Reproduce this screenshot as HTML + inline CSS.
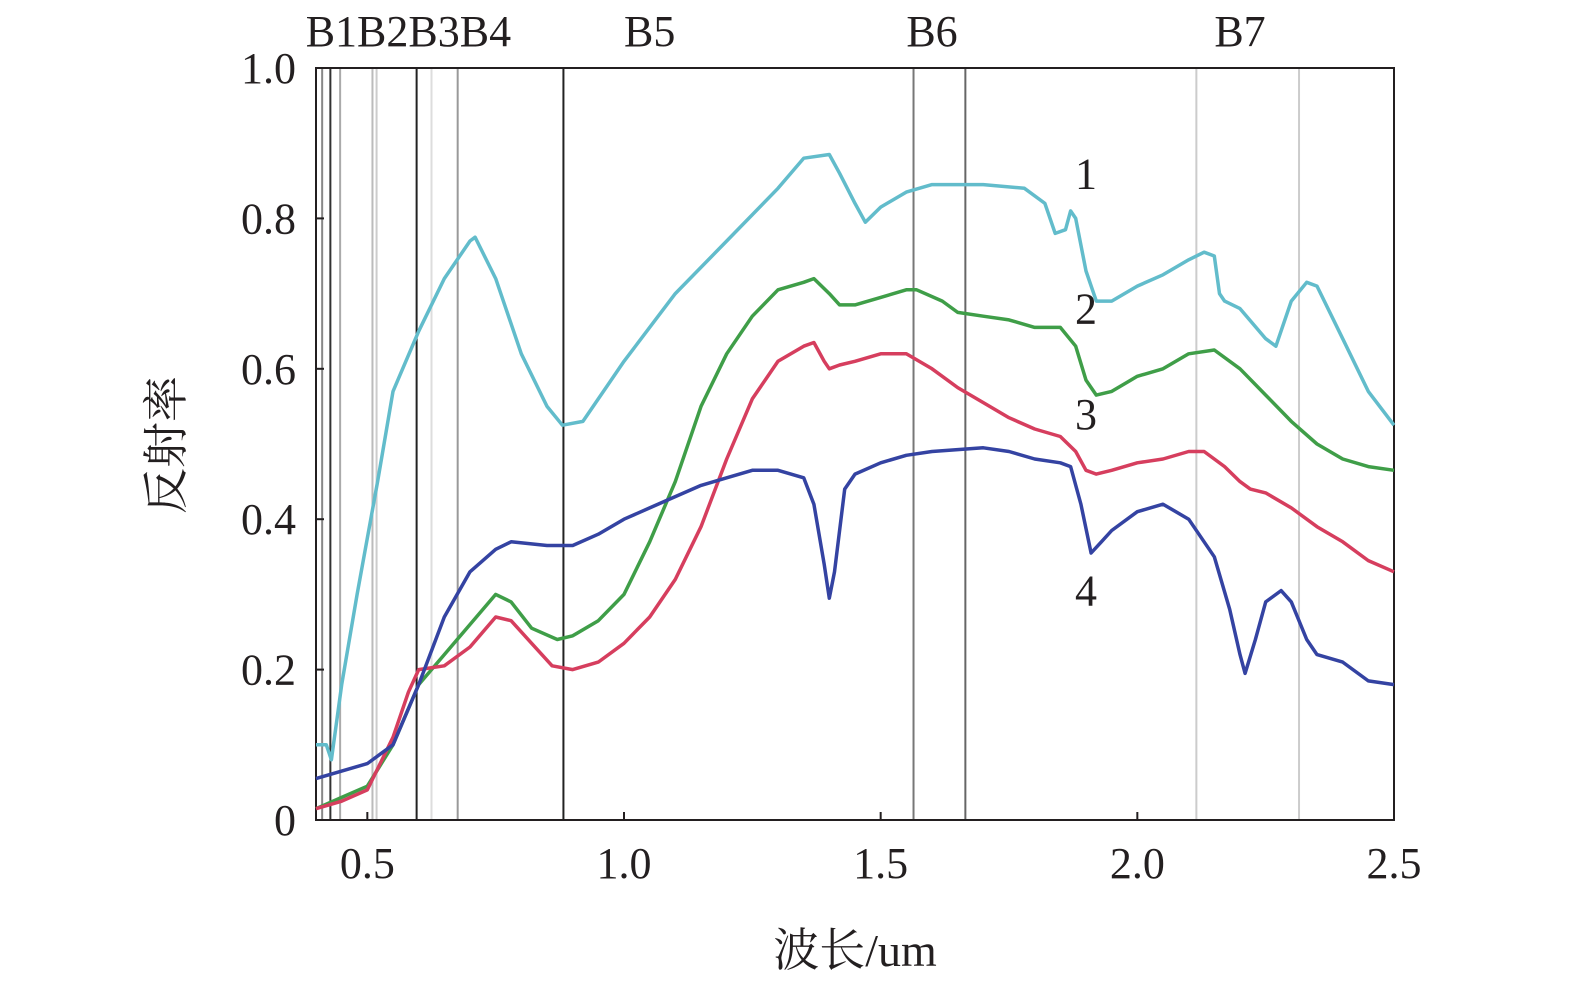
<!DOCTYPE html>
<html><head><meta charset="utf-8"><style>
body{margin:0;background:#fff}
svg text{font-family:"Liberation Serif","Noto Serif CJK SC",serif;fill:#231f20}
</style></head><body>
<svg id="c" width="1575" height="987" xmlns="http://www.w3.org/2000/svg"></svg>
<script>
const xTicks=[0.5,1.0,1.5,2.0,2.5];
const xTickLabels=["0.5","1.0","1.5","2.0","2.5"];
const yTicks=[0,0.2,0.4,0.6,0.8,1.0];
const yTickLabels=["0","0.2","0.4","0.6","0.8","1.0"];
const bandLines=[0.412,0.428,0.447,0.51,0.518,0.596,0.625,0.676,0.882,1.564,1.665,2.115,2.315];
const bandColors=["#888","#333","#aaa","#bbb","#ccc","#222","#ddd","#999","#222","#777","#666","#ccc","#ccc"];
const bandNames=["B1B2B3B4","B5","B6","B7"];
const bandNameX=[0.58,1.05,1.60,2.20];
const s1w=[0.40,0.42,0.43,0.45,0.48,0.52,0.55,0.60,0.65,0.70,0.71,0.75,0.80,0.85,0.88,0.92,0.95,1.0,1.1,1.2,1.3,1.35,1.40,1.42,1.45,1.47,1.50,1.55,1.6,1.7,1.78,1.82,1.84,1.86,1.87,1.88,1.90,1.92,1.95,2.0,2.05,2.10,2.13,2.15,2.16,2.17,2.20,2.25,2.27,2.30,2.33,2.35,2.40,2.45,2.5];
const s1v=[0.10,0.10,0.08,0.18,0.30,0.45,0.57,0.65,0.72,0.77,0.775,0.72,0.62,0.55,0.525,0.53,0.56,0.61,0.70,0.77,0.84,0.88,0.885,0.86,0.82,0.795,0.815,0.835,0.845,0.845,0.84,0.82,0.78,0.785,0.81,0.80,0.73,0.69,0.69,0.71,0.725,0.745,0.755,0.75,0.70,0.69,0.68,0.64,0.63,0.69,0.715,0.71,0.64,0.57,0.525];
const s2w=[0.40,0.45,0.50,0.55,0.60,0.65,0.70,0.75,0.78,0.82,0.87,0.90,0.95,1.0,1.05,1.10,1.15,1.20,1.25,1.30,1.35,1.37,1.40,1.42,1.45,1.50,1.55,1.57,1.62,1.65,1.70,1.75,1.80,1.85,1.88,1.90,1.92,1.95,2.0,2.05,2.10,2.15,2.20,2.25,2.30,2.35,2.40,2.45,2.5];
const s2v=[0.015,0.03,0.045,0.10,0.18,0.22,0.26,0.30,0.29,0.255,0.24,0.245,0.265,0.30,0.37,0.45,0.55,0.62,0.67,0.705,0.715,0.72,0.70,0.685,0.685,0.695,0.705,0.705,0.69,0.675,0.67,0.665,0.655,0.655,0.63,0.585,0.565,0.57,0.59,0.60,0.62,0.625,0.60,0.565,0.53,0.50,0.48,0.47,0.465];
const s3w=[0.40,0.45,0.50,0.55,0.58,0.60,0.65,0.70,0.75,0.78,0.82,0.86,0.90,0.95,1.0,1.05,1.10,1.15,1.20,1.25,1.30,1.35,1.37,1.39,1.40,1.42,1.45,1.50,1.55,1.60,1.65,1.70,1.75,1.80,1.85,1.88,1.90,1.92,1.95,2.0,2.05,2.10,2.13,2.17,2.20,2.22,2.25,2.30,2.35,2.40,2.45,2.5];
const s3v=[0.015,0.025,0.04,0.11,0.17,0.20,0.205,0.23,0.27,0.265,0.235,0.205,0.20,0.21,0.235,0.27,0.32,0.39,0.48,0.56,0.61,0.63,0.635,0.61,0.60,0.605,0.61,0.62,0.62,0.60,0.575,0.555,0.535,0.52,0.51,0.49,0.465,0.46,0.465,0.475,0.48,0.49,0.49,0.47,0.45,0.44,0.435,0.415,0.39,0.37,0.345,0.33];
const s4w=[0.40,0.45,0.50,0.55,0.60,0.65,0.70,0.75,0.78,0.85,0.90,0.95,1.0,1.05,1.10,1.15,1.20,1.25,1.30,1.35,1.37,1.39,1.40,1.41,1.43,1.45,1.50,1.55,1.60,1.70,1.75,1.80,1.85,1.87,1.89,1.91,1.93,1.95,2.0,2.05,2.10,2.15,2.18,2.20,2.21,2.23,2.25,2.28,2.30,2.33,2.35,2.40,2.45,2.5];
const s4v=[0.055,0.065,0.075,0.10,0.18,0.27,0.33,0.36,0.37,0.365,0.365,0.38,0.40,0.415,0.43,0.445,0.455,0.465,0.465,0.455,0.42,0.34,0.295,0.33,0.44,0.46,0.475,0.485,0.49,0.495,0.49,0.48,0.475,0.47,0.42,0.355,0.37,0.385,0.41,0.42,0.40,0.35,0.28,0.22,0.195,0.24,0.29,0.305,0.29,0.24,0.22,0.21,0.185,0.18];
const seriesLabels=["1","2","3","4"];
const labelPos=[[1.90,0.84],[1.90,0.66],[1.90,0.52],[1.90,0.285]];

const L=316,R=1394,T=68,B=820;
const X=w=>L+(w-0.4)/(2.5-0.4)*(R-L);
const Y=v=>B-v*(B-T);
const svg=document.getElementById('c');
const NS='http://www.w3.org/2000/svg';
function mk(t,a){const e=document.createElementNS(NS,t);for(const k in a)e.setAttribute(k,a[k]);svg.appendChild(e);return e;}
bandLines.forEach((b,i)=>{const e=mk('line',{x1:X(b),x2:X(b),y1:T,y2:B,stroke:bandColors[i],'stroke-width':2});

});
bandNames.forEach((n,i)=>{const e=mk('text',{x:X(bandNameX[i])-(i==0?0:0),y:46,'font-size':44,'text-anchor':'middle'});e.textContent=n;

});
const fr=mk('rect',{x:L,y:T,width:R-L,height:B-T,fill:'none',stroke:'#231f20','stroke-width':2});


xTicks.forEach((t,i)=>{mk('line',{x1:X(t),x2:X(t),y1:B,y2:B-8,stroke:'#231f20','stroke-width':2});
const e=mk('text',{x:X(t),y:878,'font-size':44,'text-anchor':'middle'});e.textContent=xTickLabels[i];

});
yTicks.forEach((t,i)=>{mk('line',{x1:L,x2:L+8,y1:Y(t),y2:Y(t),stroke:'#231f20','stroke-width':2});
const e=mk('text',{x:296,y:Y(t)+15,'font-size':44,'text-anchor':'end'});e.textContent=yTickLabels[i];

});
const series=[[s1w,s1v,'#62bccb'],[s2w,s2v,'#3f9e48'],[s3w,s3v,'#d63e5e'],[s4w,s4v,'#3443a2']];
series.forEach((s,i)=>{const d=s[0].map((w,j)=>(j?'L':'M')+X(w).toFixed(1)+','+Y(s[1][j]).toFixed(1)).join('');
const e=mk('path',{d:d,fill:'none',stroke:s[2],'stroke-width':3.5,'stroke-linejoin':'round'});


const t=mk('text',{x:X(labelPos[i][0]),y:Y(labelPos[i][1]),'font-size':44,'text-anchor':'middle'});t.textContent=seriesLabels[i];

});
const xt=mk('text',{x:855,y:966,'font-size':46,'text-anchor':'middle'});xt.textContent='波长/um';


const yt=mk('text',{x:0,y:0,'font-size':46,'text-anchor':'middle',transform:'translate(182,445) rotate(-90)'});yt.textContent='反射率';


</script>
</body></html>
